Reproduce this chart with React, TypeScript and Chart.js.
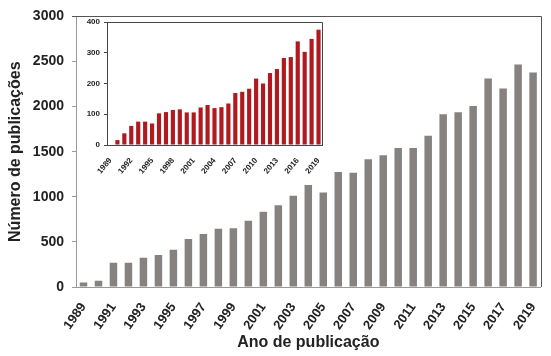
import React, { useEffect, useRef } from "react";
import { Chart, registerables } from "chart.js";
Chart.register(...registerables);

const years = [
  "1989","1990","1991","1992","1993","1994","1995","1996","1997","1998",
  "1999","2000","2001","2002","2003","2004","2005","2006","2007","2008",
  "2009","2010","2011","2012","2013","2014","2015","2016","2017","2018","2019",
];

const mainValues = [
  50, 70, 270, 268, 323, 355, 413, 533, 587, 645,
  652, 735, 833, 906, 1011, 1130, 1047, 1275, 1268, 1416,
  1460, 1540, 1540, 1677, 1916, 1938, 2008, 2312, 2200, 2467, 2377,
];

const insetValues = [
  0, 16, 38, 62, 76, 76, 70, 103, 107, 114,
  116, 106, 106, 122, 130, 120, 123, 135, 169, 173,
  183, 216, 200, 234, 247, 283, 286, 337, 303, 345, 375,
];

const mainYTicks = [0, 500, 1000, 1500, 2000, 2500, 3000];
const insetYTicks = [0, 100, 200, 300, 400];

const yTitle = "Número de publicações";
const xTitle = "Ano de publicação";

const FONT = "'Liberation Sans', Arial, sans-serif";

const boxPlugin = {
  id: "boxLines",
  afterDraw(chart: any, _args: any, opts: any) {
    const { ctx, chartArea } = chart;
    const { left, top, right, bottom } = chartArea;
    ctx.save();
    ctx.strokeStyle = opts.color || "#555";
    ctx.lineWidth = 1;
    ctx.beginPath();
    ctx.moveTo(Math.round(left) - (opts.extend || 0), Math.round(top) + 0.5);
    ctx.lineTo(Math.round(right) + 0.5, Math.round(top) + 0.5);
    ctx.lineTo(Math.round(right) + 0.5, Math.round(bottom));
    ctx.stroke();
    ctx.restore();
  },
};

export default function App() {
  const mainRef = useRef<HTMLCanvasElement>(null);
  const insetRef = useRef<HTMLCanvasElement>(null);

  useEffect(() => {
    const main = new Chart(mainRef.current!, {
      type: "bar",
      data: {
        labels: years,
        datasets: [
          {
            data: mainValues,
            backgroundColor: "#86827f",
            categoryPercentage: 1,
            barPercentage: 0.5,
          },
        ],
      },
      options: {
        responsive: false,
        animation: false,
        layout: { padding: { left: 0, top: 11, right: 8, bottom: 0 } },
        plugins: {
          legend: { display: false },
          tooltip: { enabled: false },
          boxLines: { color: "#555", extend: 4 },
        } as any,
        scales: {
          x: {
            grid: { display: false },
            border: { display: true, color: "#999" },
            ticks: {
              autoSkip: false,
              minRotation: 55,
              maxRotation: 55,
              padding: 5,
              color: "#222",
              font: { family: FONT, size: 13, weight: "bold" },
              callback: (_v: any, i: number) => (i % 2 === 0 ? years[i] : ""),
            },
            title: {
              display: true,
              text: xTitle,
              color: "#222",
              font: { family: FONT, size: 16, weight: "bold" },
              padding: { top: 0, bottom: 4 },
            },
            afterFit: (s: any) => {
              s.height = 69;
            },
          },
          y: {
            min: 0,
            max: 3000,
            afterBuildTicks: (s: any) => {
              s.ticks = mainYTicks.map((v) => ({ value: v }));
            },
            grid: { drawOnChartArea: false, drawTicks: true, tickLength: 4, color: "#999" },
            border: { display: true, color: "#999" },
            ticks: {
              padding: 8,
              color: "#222",
              font: { family: FONT, size: 14, weight: "bold" },
              callback: (v: any) => String(v),
            },
            title: {
              display: true,
              text: yTitle,
              color: "#222",
              font: { family: FONT, size: 16, weight: "bold" },
              padding: { top: 6, bottom: 0 },
            },
            afterFit: (s: any) => {
              s.width = 76;
            },
          },
        },
      } as any,
      plugins: [boxPlugin],
    });

    const inset = new Chart(insetRef.current!, {
      type: "bar",
      data: {
        labels: years,
        datasets: [
          {
            data: insetValues,
            backgroundColor: "#b01a1f",
            categoryPercentage: 1,
            barPercentage: 0.6,
          },
        ],
      },
      options: {
        responsive: false,
        animation: false,
        layout: { padding: { left: 0, top: 10, right: 8, bottom: 0 } },
        plugins: {
          legend: { display: false },
          tooltip: { enabled: false },
          boxLines: { color: "#444", extend: 0 },
        } as any,
        scales: {
          x: {
            grid: { display: false },
            border: { display: true, color: "#444" },
            ticks: {
              autoSkip: false,
              minRotation: 50,
              maxRotation: 50,
              padding: 3,
              color: "#222",
              font: { family: FONT, size: 8, weight: "bold" },
              callback: (_v: any, i: number) => (i % 3 === 0 ? years[i] : ""),
            },
            afterFit: (s: any) => {
              s.height = 37;
            },
          },
          y: {
            min: 0,
            max: 400,
            afterBuildTicks: (s: any) => {
              s.ticks = insetYTicks.map((v) => ({ value: v }));
            },
            grid: { drawOnChartArea: false, drawTicks: true, tickLength: 3, color: "#444" },
            border: { display: true, color: "#444" },
            ticks: {
              padding: 4,
              color: "#222",
              font: { family: FONT, size: 8, weight: "bold" },
              callback: (v: any) => String(v),
            },
            afterFit: (s: any) => {
              s.width = 32;
            },
          },
        },
      } as any,
      plugins: [boxPlugin],
    });

    return () => {
      main.destroy();
      inset.destroy();
    };
  }, []);

  return (
    <div style={{ position: "absolute", left: 0, top: 0, width: 551, height: 356, background: "#fff" }}>
      <canvas ref={mainRef} width={551} height={356} style={{ position: "absolute", left: 0, top: 0 }} />
      <canvas ref={insetRef} width={255} height={170} style={{ position: "absolute", left: 75, top: 12 }} />
    </div>
  );
}
